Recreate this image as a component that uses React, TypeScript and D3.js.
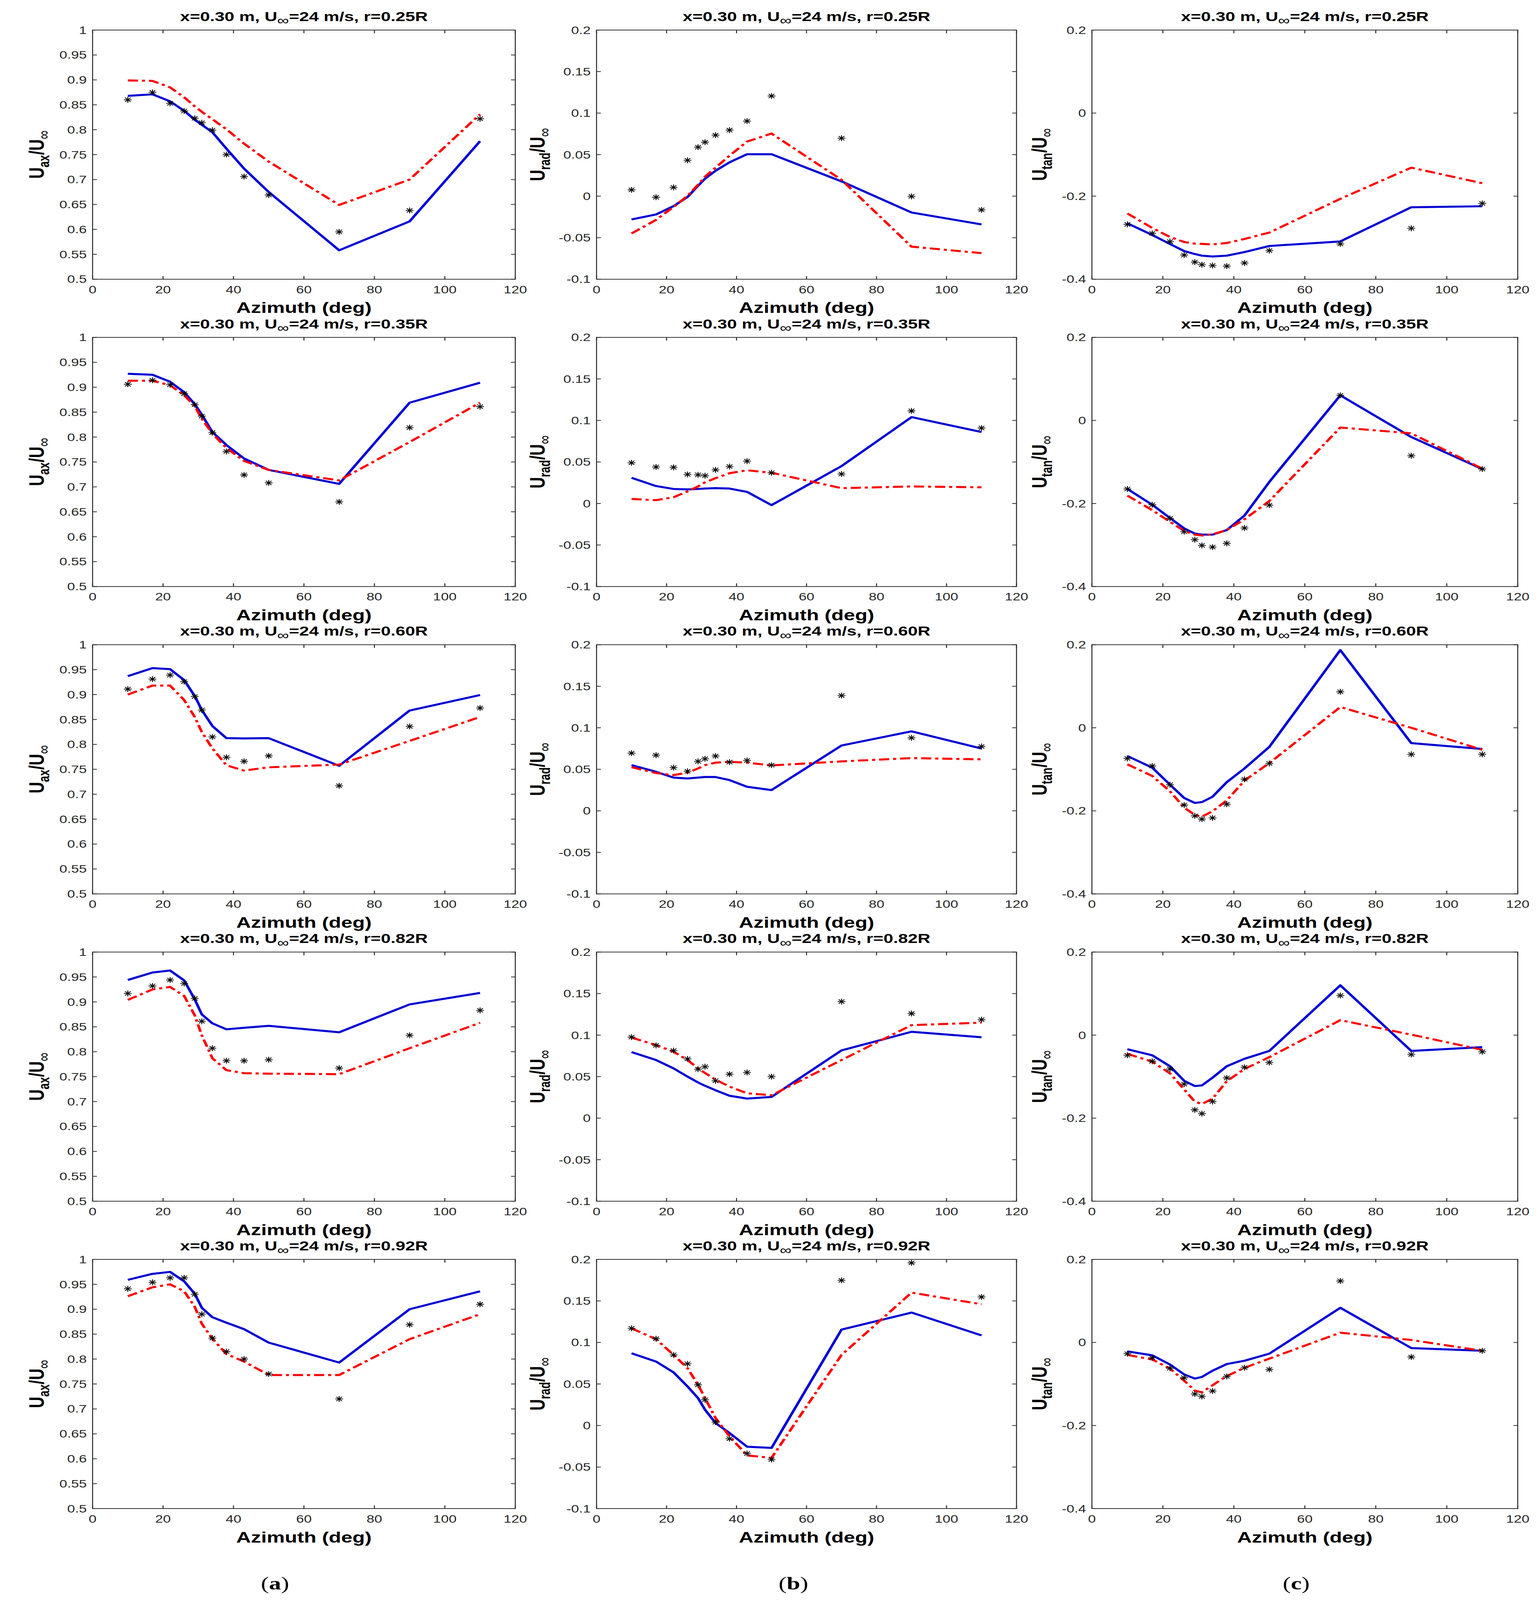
import React, { useLayoutEffect } from 'react'
import * as d3 from 'd3'

// azimuth stations (deg), shared by every panel
const AZIMUTH = [10, 17, 22, 26, 29, 31, 34, 38, 43, 50, 70, 90, 110]
const RADII = ['0.25', '0.35', '0.60', '0.82', '0.92']
const X_TICKS = [0, 20, 40, 60, 80, 100, 120]

// axial component
const AX_MEAS_R025 = [0.86, 0.875, 0.853, 0.8375, 0.823, 0.814, 0.799, 0.75, 0.706, 0.669, 0.595, 0.638, 0.822]
const AX_BLUE_R025 = [0.868, 0.871, 0.857, 0.838, 0.82, 0.81, 0.795, 0.762, 0.722, 0.675, 0.558, 0.616, 0.777]
const AX_RED_R025 = [0.899, 0.898, 0.885, 0.865, 0.847, 0.836, 0.821, 0.801, 0.772, 0.736, 0.649, 0.7, 0.831]
const AX_MEAS_R035 = [0.906, 0.914, 0.905, 0.887, 0.865, 0.842, 0.809, 0.771, 0.724, 0.708, 0.67, 0.819, 0.861]
const AX_BLUE_R035 = [0.927, 0.925, 0.911, 0.89, 0.866, 0.845, 0.81, 0.784, 0.757, 0.734, 0.706, 0.869, 0.909]
const AX_RED_R035 = [0.913, 0.913, 0.904, 0.884, 0.862, 0.837, 0.807, 0.778, 0.752, 0.734, 0.713, 0.79, 0.869]
const AX_MEAS_R060 = [0.911, 0.931, 0.939, 0.926, 0.896, 0.869, 0.815, 0.774, 0.766, 0.777, 0.717, 0.836, 0.873]
const AX_BLUE_R060 = [0.937, 0.953, 0.951, 0.929, 0.897, 0.869, 0.837, 0.8125, 0.812, 0.8125, 0.757, 0.868, 0.899]
const AX_RED_R060 = [0.9, 0.918, 0.918, 0.889, 0.855, 0.825, 0.792, 0.758, 0.7475, 0.754, 0.7595, 0.807, 0.855]
const AX_MEAS_R082 = [0.917, 0.932, 0.944, 0.937, 0.907, 0.861, 0.807, 0.782, 0.782, 0.784, 0.767, 0.833, 0.883]
const AX_BLUE_R082 = [0.944, 0.959, 0.963, 0.943, 0.905, 0.875, 0.857, 0.845, 0.848, 0.852, 0.839, 0.895, 0.918]
const AX_RED_R082 = [0.904, 0.925, 0.93, 0.912, 0.873, 0.833, 0.787, 0.763, 0.757, 0.756, 0.755, 0.807, 0.858]
const AX_MEAS_R092 = [0.941, 0.954, 0.963, 0.963, 0.93, 0.89, 0.842, 0.815, 0.8, 0.77, 0.72, 0.869, 0.91]
const AX_BLUE_R092 = [0.959, 0.971, 0.975, 0.956, 0.931, 0.903, 0.884, 0.873, 0.86, 0.833, 0.793, 0.9, 0.936]
const AX_RED_R092 = [0.926, 0.944, 0.95, 0.936, 0.905, 0.871, 0.841, 0.81, 0.795, 0.768, 0.768, 0.84, 0.89]

// radial component
const RAD_MEAS_R025 = [0.0076, -0.0013, 0.0105, 0.0432, 0.059, 0.065, 0.0735, 0.0795, 0.0904, 0.1206, 0.0698, -0.0003, -0.0165]
const RAD_BLUE_R025 = [-0.028, -0.022, -0.012, -0.001, 0.0125, 0.021, 0.0306, 0.0408, 0.0505, 0.0505, 0.0178, -0.0197, -0.034]
const RAD_RED_R025 = [-0.0449, -0.0286, -0.013, 0.0004, 0.0137, 0.0234, 0.0343, 0.0488, 0.0657, 0.0754, 0.0197, -0.0608, -0.0686]
const RAD_MEAS_R035 = [0.049, 0.044, 0.0435, 0.035, 0.0345, 0.0335, 0.0405, 0.0445, 0.051, 0.037, 0.0355, 0.1115, 0.0909]
const RAD_BLUE_R035 = [0.031, 0.021, 0.0175, 0.017, 0.0175, 0.018, 0.0185, 0.018, 0.014, -0.002, 0.045, 0.104, 0.086]
const RAD_RED_R035 = [0.0055, 0.004, 0.0075, 0.0145, 0.0205, 0.0255, 0.0305, 0.0365, 0.04, 0.037, 0.0185, 0.0205, 0.0195]
const RAD_MEAS_R060 = [0.0695, 0.067, 0.052, 0.0477, 0.0595, 0.0627, 0.066, 0.0587, 0.0607, 0.055, 0.1388, 0.0879, 0.0775]
const RAD_BLUE_R060 = [0.0551, 0.047, 0.04, 0.039, 0.04, 0.0407, 0.0407, 0.037, 0.029, 0.025, 0.0787, 0.0957, 0.075]
const RAD_RED_R060 = [0.0525, 0.0455, 0.043, 0.046, 0.051, 0.055, 0.058, 0.059, 0.058, 0.0547, 0.0595, 0.0635, 0.062]
const RAD_MEAS_R082 = [0.0976, 0.0876, 0.0814, 0.0714, 0.059, 0.062, 0.045, 0.053, 0.055, 0.05, 0.1404, 0.126, 0.1186]
const RAD_BLUE_R082 = [0.0796, 0.07, 0.06, 0.05, 0.043, 0.039, 0.0336, 0.027, 0.0236, 0.0256, 0.0816, 0.104, 0.0974]
const RAD_RED_R082 = [0.097, 0.088, 0.08, 0.07, 0.06, 0.0544, 0.0464, 0.038, 0.03, 0.0276, 0.07, 0.112, 0.115]
const RAD_MEAS_R092 = [0.117, 0.1045, 0.085, 0.0743, 0.049, 0.031, 0.004, -0.016, -0.0337, -0.041, 0.1748, 0.1958, 0.1548]
const RAD_BLUE_R092 = [0.087, 0.077, 0.064, 0.047, 0.033, 0.019, 0.003, -0.009, -0.0255, -0.027, 0.1155, 0.136, 0.1085]
const RAD_RED_R092 = [0.117, 0.104, 0.085, 0.069, 0.049, 0.033, 0.009, -0.013, -0.036, -0.039, 0.085, 0.16, 0.146]

// tangential component
const TAN_MEAS_R025 = [-0.268, -0.2896, -0.3094, -0.3418, -0.3588, -0.365, -0.367, -0.3685, -0.361, -0.331, -0.315, -0.2775, -0.2175]
const TAN_BLUE_R025 = [-0.2654, -0.2935, -0.3152, -0.3322, -0.3394, -0.3433, -0.3453, -0.3433, -0.3346, -0.32, -0.309, -0.2267, -0.2243]
const TAN_RED_R025 = [-0.2417, -0.2765, -0.2983, -0.3104, -0.3143, -0.315, -0.3162, -0.3128, -0.303, -0.2877, -0.2064, -0.1314, -0.1687]
const TAN_MEAS_R035 = [-0.165, -0.203, -0.236, -0.268, -0.287, -0.301, -0.305, -0.296, -0.259, -0.204, 0.0605, -0.085, -0.117]
const TAN_BLUE_R035 = [-0.165, -0.203, -0.235, -0.26, -0.2725, -0.275, -0.275, -0.264, -0.229, -0.148, 0.0605, -0.04, -0.117]
const TAN_RED_R035 = [-0.181, -0.216, -0.244, -0.266, -0.275, -0.277, -0.274, -0.264, -0.238, -0.194, -0.017, -0.031, -0.116]
const TAN_MEAS_R060 = [-0.0738, -0.092, -0.137, -0.186, -0.212, -0.22, -0.217, -0.184, -0.124, -0.086, 0.0867, -0.064, -0.064]
const TAN_BLUE_R060 = [-0.068, -0.096, -0.137, -0.169, -0.181, -0.179, -0.166, -0.131, -0.098, -0.046, 0.187, -0.037, -0.051]
const TAN_RED_R060 = [-0.088, -0.116, -0.153, -0.192, -0.21, -0.214, -0.201, -0.175, -0.127, -0.085, 0.05, 0.0, -0.053]
const TAN_MEAS_R082 = [-0.0485, -0.063, -0.0815, -0.118, -0.18, -0.189, -0.16, -0.103, -0.0775, -0.066, 0.0954, -0.0467, -0.04]
const TAN_BLUE_R082 = [-0.034, -0.0485, -0.075, -0.11, -0.1226, -0.121, -0.1025, -0.075, -0.057, -0.038, 0.12, -0.038, -0.029]
const TAN_RED_R082 = [-0.045, -0.064, -0.092, -0.131, -0.16, -0.166, -0.153, -0.111, -0.0816, -0.053, 0.036, 0.0012, -0.0354]
const TAN_MEAS_R092 = [-0.027, -0.037, -0.062, -0.085, -0.124, -0.13, -0.117, -0.082, -0.061, -0.065, 0.148, -0.035, -0.02]
const TAN_BLUE_R092 = [-0.0215, -0.031, -0.053, -0.077, -0.087, -0.083, -0.068, -0.052, -0.044, -0.027, 0.0835, -0.0135, -0.02]
const TAN_RED_R092 = [-0.03, -0.041, -0.063, -0.092, -0.116, -0.12, -0.103, -0.081, -0.061, -0.039, 0.0235, 0.006, -0.02]

const COMPONENTS = ['ax', 'rad', 'tan']
const Y_DOMAINS: [number, number][] = [[0.5, 1], [-0.1, 0.2], [-0.4, 0.2]]
const Y_STEPS = [0.05, 0.05, 0.2]
const PANEL_LETTERS = ['a', 'b', 'c']

// rows = radius, cols = component
const TABLE = [
  [[AX_MEAS_R025, AX_BLUE_R025, AX_RED_R025], [RAD_MEAS_R025, RAD_BLUE_R025, RAD_RED_R025], [TAN_MEAS_R025, TAN_BLUE_R025, TAN_RED_R025]],
  [[AX_MEAS_R035, AX_BLUE_R035, AX_RED_R035], [RAD_MEAS_R035, RAD_BLUE_R035, RAD_RED_R035], [TAN_MEAS_R035, TAN_BLUE_R035, TAN_RED_R035]],
  [[AX_MEAS_R060, AX_BLUE_R060, AX_RED_R060], [RAD_MEAS_R060, RAD_BLUE_R060, RAD_RED_R060], [TAN_MEAS_R060, TAN_BLUE_R060, TAN_RED_R060]],
  [[AX_MEAS_R082, AX_BLUE_R082, AX_RED_R082], [RAD_MEAS_R082, RAD_BLUE_R082, RAD_RED_R082], [TAN_MEAS_R082, TAN_BLUE_R082, TAN_RED_R082]],
  [[AX_MEAS_R092, AX_BLUE_R092, AX_RED_R092], [RAD_MEAS_R092, RAD_BLUE_R092, RAD_RED_R092], [TAN_MEAS_R092, TAN_BLUE_R092, TAN_RED_R092]],
]

// drawing is laid out in the reference's 3942x5484 space and fitted to the window
const W = 3942
const H = 5484
const COL_LEFT = [237, 1527, 2795]
const COL_RIGHT = [1319, 2602, 3885]
const YLABEL_GAP = [125, 133, 116]
const LETTER_X = [704, 2031, 3318]
const ROW_TOP0 = 103
const ROW_STEP = 1053.4
const AX_H = 854

const SANS = '"Liberation Sans", Arial, Helvetica, sans-serif'
const SERIF = '"Liberation Serif", "Times New Roman", serif'
const AXIS_COLOR = '#262626'
const TICK = 11

function Asterisk({ x, y }: { x: number; y: number }) {
  const r = 10
  const d = r * 0.72
  return (
    <g stroke="#000" strokeWidth={2.4}>
      <line x1={x - r} y1={y} x2={x + r} y2={y} />
      <line x1={x} y1={y - r} x2={x} y2={y + r} />
      <line x1={x - d} y1={y - d} x2={x + d} y2={y + d} />
      <line x1={x - d} y1={y + d} x2={x + d} y2={y - d} />
    </g>
  )
}

function Panel({ row, col }: { row: number; col: number }) {
  const left = COL_LEFT[col]
  const right = COL_RIGHT[col]
  const top = ROW_TOP0 + row * ROW_STEP
  const bottom = top + AX_H
  const [meas, blue, red] = TABLE[row][col]

  const x = d3.scaleLinear().domain([0, 120]).range([left, right])
  const y = d3.scaleLinear().domain(Y_DOMAINS[col]).range([bottom, top])
  const yTicks = d3
    .range(Y_DOMAINS[col][0], Y_DOMAINS[col][1] + 1e-9, Y_STEPS[col])
    .map((v) => +v.toFixed(2))
  const fmt = (v: number) => String(+v.toFixed(2))

  const line = d3
    .line<number>()
    .x((_, i) => x(AZIMUTH[i]))
    .y((v) => y(v))

  const cx = (left + right) / 2
  const cy = (top + bottom) / 2
  const ylx = left - YLABEL_GAP[col]

  return (
    <g>
      {/* title */}
      <text x={cx} y={top - 31} textAnchor="middle" fontFamily={SANS} fontWeight="bold" fontSize={45} fill="#000">
        x=0.30 m, U
        <tspan fontSize={42} fontWeight="normal" dy={13}>∞</tspan>
        <tspan fontSize={45} dy={-13}>=24 m/s, r={RADII[row]}R</tspan>
      </text>

      {/* data */}
      <path d={line(blue) || ''} fill="none" stroke="#0000d4" strokeWidth={7} strokeLinejoin="round" />
      <path d={line(red) || ''} fill="none" stroke="#ff0000" strokeWidth={7} strokeDasharray="26 10 8 10" />
      {meas.map((v, i) => (
        <Asterisk key={i} x={x(AZIMUTH[i])} y={y(v)} />
      ))}

      {/* box with inward ticks on all sides */}
      <rect x={left} y={top} width={right - left} height={AX_H} fill="none" stroke={AXIS_COLOR} strokeWidth={2.5} />
      {X_TICKS.map((t) => (
        <g key={`xt-${t}`} stroke={AXIS_COLOR} strokeWidth={2.5}>
          <line x1={x(t)} x2={x(t)} y1={bottom} y2={bottom - TICK} />
          <line x1={x(t)} x2={x(t)} y1={top} y2={top + TICK} />
        </g>
      ))}
      {yTicks.map((t) => (
        <g key={`yt-${t}`} stroke={AXIS_COLOR} strokeWidth={2.5}>
          <line x1={left} x2={left + TICK} y1={y(t)} y2={y(t)} />
          <line x1={right} x2={right - TICK} y1={y(t)} y2={y(t)} />
        </g>
      ))}

      {/* tick labels */}
      {X_TICKS.map((t) => (
        <text key={`xl-${t}`} x={x(t)} y={bottom + 48} textAnchor="middle" fontFamily={SANS} fontSize={36} fill={AXIS_COLOR}>
          {t}
        </text>
      ))}
      {yTicks.map((t) => (
        <text key={`yl-${t}`} x={left - 15} y={y(t) + 13} textAnchor="end" fontFamily={SANS} fontSize={36} fill={AXIS_COLOR}>
          {fmt(t)}
        </text>
      ))}

      {/* axis labels */}
      <text x={cx} y={bottom + 116} textAnchor="middle" fontFamily={SANS} fontWeight="bold" fontSize={52} fill="#000">
        Azimuth (deg)
      </text>
      <text
        transform={`translate(${ylx}, ${cy}) rotate(-90)`}
        textAnchor="middle"
        fontFamily={SANS}
        fontWeight="bold"
        fontSize={54}
        fill="#000"
      >
        U
        <tspan fontSize={38} dy={14}>{COMPONENTS[col]}</tspan>
        <tspan fontSize={54} dy={-14}>/U</tspan>
        <tspan fontSize={42} fontWeight="normal" dy={14}>∞</tspan>
      </text>
    </g>
  )
}

export default function App() {
  useLayoutEffect(() => {
    document.body.style.margin = '0'
    document.body.style.overflow = 'hidden'
  }, [])

  return (
    <svg
      viewBox={`0 0 ${W} ${H}`}
      preserveAspectRatio="none"
      style={{ display: 'block', width: '100vw', height: '100vh', background: '#fff' }}
    >
      <rect width={W} height={H} fill="#fff" />
      {RADII.map((_, row) =>
        COMPONENTS.map((_, col) => <Panel key={`${row}-${col}`} row={row} col={col} />)
      )}
      {PANEL_LETTERS.map((l, i) => (
        <text key={l} x={LETTER_X[i]} y={5448} textAnchor="middle" fontFamily={SERIF} fontSize={62} fill="#000">
          (<tspan fontWeight="bold">{l}</tspan>)
        </text>
      ))}
    </svg>
  )
}
